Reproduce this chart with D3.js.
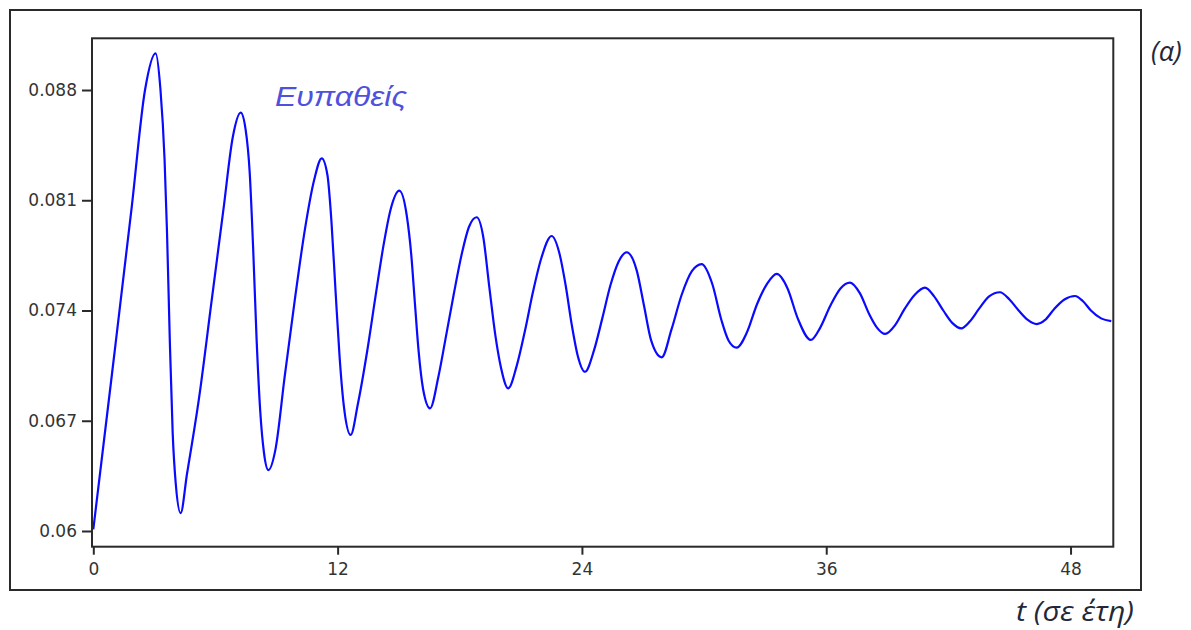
<!DOCTYPE html>
<html>
<head>
<meta charset="utf-8">
<script src="https://cdn.jsdelivr.net/npm/d3@7"></script>
<style>
html,body{margin:0;padding:0;background:#fff;}
svg{display:block;}
</style>
</head>
<body>
<svg id="chart" width="1191" height="630"></svg>
<script>
// ---- data ----
const timeYears = [
  0,0.92,1.89,2.54,3.06,
  3.30,3.50,3.62,3.76,3.90,4.05,4.29,
  4.60,5.20,5.80,6.40,6.85,7.24,
  7.48,7.68,7.85,8.02,8.20,8.38,8.60,
  8.95,9.40,9.90,10.40,10.85,11.22,
  11.50,11.70,11.90,12.10,12.30,12.64,
  13.00,13.45,13.85,14.25,14.60,15.03,
  15.40,15.62,15.80,15.98,16.20,16.54,
  16.95,17.30,17.70,18.10,18.45,18.83,
  19.15,19.45,19.75,20.02,20.38,
  20.80,21.20,21.60,22.00,22.51,
  22.90,23.20,23.50,23.80,24.15,
  24.60,25.00,25.40,25.80,26.20,
  26.70,27.05,27.40,27.92,
  28.40,28.90,29.40,29.88,
  30.40,30.85,31.20,31.60,
  32.10,32.60,33.10,33.57,
  34.10,34.60,35.24,
  35.70,36.20,36.70,37.17,
  37.65,38.10,38.50,38.89,
  39.40,39.85,40.35,40.85,
  41.30,41.75,42.20,42.63,
  43.05,43.50,44.00,44.53,
  45.00,45.45,45.90,46.34,
  46.75,47.20,47.70,48.22,
  48.60,49.00,49.50,50.00];
const susceptible = [
  0.0601,0.0700,0.0806,0.0880,0.09033,
  0.0880,0.0836,0.0790,0.0720,0.0662,0.0630,0.06114,
  0.0636,0.0685,0.0745,0.0805,0.0850,0.08656,
  0.0855,0.0828,0.0780,0.0722,0.0676,0.0650,0.06387,
  0.0652,0.0698,0.0747,0.0792,0.0823,0.08366,
  0.0826,0.0796,0.0752,0.0710,0.0680,0.0661,
  0.0681,0.0714,0.0748,0.0781,0.0804,0.08161,
  0.0800,0.0775,0.0744,0.0714,0.0690,0.06779,
  0.0698,0.0722,0.0750,0.0776,0.0793,0.07992,
  0.0787,0.0755,0.0724,0.0704,0.06906,
  0.0705,0.0727,0.0752,0.0773,0.07873,
  0.0776,0.0756,0.0731,0.0711,0.07011,
  0.0715,0.0735,0.0756,0.0771,0.0777,
  0.0765,0.0743,0.0721,0.07103,
  0.0728,0.0750,0.0765,0.07695,
  0.0757,0.0734,0.0721,0.07164,
  0.0726,0.0744,0.0757,0.07632,
  0.0754,0.0735,0.07213,
  0.0729,0.0743,0.0754,0.07577,
  0.0751,0.0738,0.0729,0.07251,
  0.0731,0.0741,0.0750,0.07545,
  0.0749,0.0740,0.0732,0.07287,
  0.0733,0.0741,0.0749,0.07516,
  0.0747,0.0740,0.0734,0.07314,
  0.0734,0.0741,0.0747,0.07492,
  0.0746,0.0740,0.0735,0.07333];
const yTicks = [0.06,0.067,0.074,0.081,0.088];
const yTickLabels = ["0.06","0.067","0.074","0.081","0.088"];
const xTicks = [0,12,24,36,48];
const xTickLabels = ["0","12","24","36","48"];
const seriesLabel = "Ευπαθείς";
const panelLabel = "(α)";
const xAxisTitle = "t (σε έτη)";

// ---- layout ----
const svg = d3.select("#chart");
const plot = {left:92, top:38.3, right:1113.3, bottom:546.7};

const x = d3.scaleLinear().domain([0, 50.1]).range([93.3, 1113.3]);
const y = d3.scaleLinear().domain([0.059003, 0.091283]).range([plot.bottom, plot.top]);

// outer frame
svg.append("rect")
  .attr("x",10).attr("y",10).attr("width",1131).attr("height",580)
  .attr("fill","none").attr("stroke","#2a2a2a").attr("stroke-width",2);

// clip
svg.append("clipPath").attr("id","clip").append("rect")
  .attr("x",plot.left).attr("y",plot.top)
  .attr("width",plot.right-plot.left).attr("height",plot.bottom-plot.top);

// axes
const fontAxis = "'DejaVu Sans', Verdana, sans-serif";
const yAxis = d3.axisLeft(y).tickValues(yTicks)
  .tickFormat((d,i)=>yTickLabels[i]).tickSize(10).tickPadding(5);
const gy = svg.append("g").attr("transform",`translate(${plot.left},0)`).call(yAxis);
gy.select(".domain").remove();
gy.selectAll(".tick line").attr("stroke","#2a2a2a").attr("stroke-width",2);
gy.selectAll(".tick text").attr("fill","#333").style("font-family",fontAxis).style("font-size","17px");

const xAxis = d3.axisBottom(x).tickValues(xTicks)
  .tickFormat((d,i)=>xTickLabels[i]).tickSize(8).tickPadding(8);
const gx = svg.append("g").attr("transform",`translate(0,${plot.bottom})`).call(xAxis);
gx.select(".domain").remove();
gx.selectAll(".tick line").attr("stroke","#2a2a2a").attr("stroke-width",2);
gx.selectAll(".tick text").attr("fill","#333").style("font-family",fontAxis).style("font-size","17px");

// line
const pts = timeYears.map((t,i)=>[t, susceptible[i]]);
const line = d3.line().x(d=>x(d[0])).y(d=>y(d[1])).curve(d3.curveMonotoneX);
svg.append("path")
  .attr("d", line(pts))
  .attr("clip-path","url(#clip)")
  .attr("fill","none").attr("stroke","#0a0aff").attr("stroke-width",2.2)
  .attr("stroke-linejoin","round");

// inner frame
svg.append("rect")
  .attr("x",plot.left).attr("y",plot.top)
  .attr("width",plot.right-plot.left).attr("height",plot.bottom-plot.top)
  .attr("fill","none").attr("stroke","#2a2a2a").attr("stroke-width",2);

// texts
svg.append("text").text(seriesLabel)
  .attr("x",275).attr("y",106)
  .attr("textLength",132).attr("lengthAdjust","spacingAndGlyphs")
  .style("font-family","'Liberation Sans', Arial, sans-serif")
  .style("font-style","italic").style("font-size","28px")
  .attr("fill","#5050dd");

svg.append("text").text(panelLabel)
  .attr("x",1151).attr("y",61)
  .style("font-family","'Open Sans', 'Noto Sans', sans-serif")
  .style("font-style","italic").style("font-size","27px")
  .attr("fill","#22283a");

svg.append("text").text(xAxisTitle)
  .attr("x",1134).attr("y",621).attr("text-anchor","end")
  .attr("textLength",118).attr("lengthAdjust","spacingAndGlyphs")
  .style("font-family","'Open Sans', 'Noto Sans', sans-serif")
  .style("font-style","italic").style("font-size","27px")
  .attr("fill","#22283a");
</script>
</body>
</html>
